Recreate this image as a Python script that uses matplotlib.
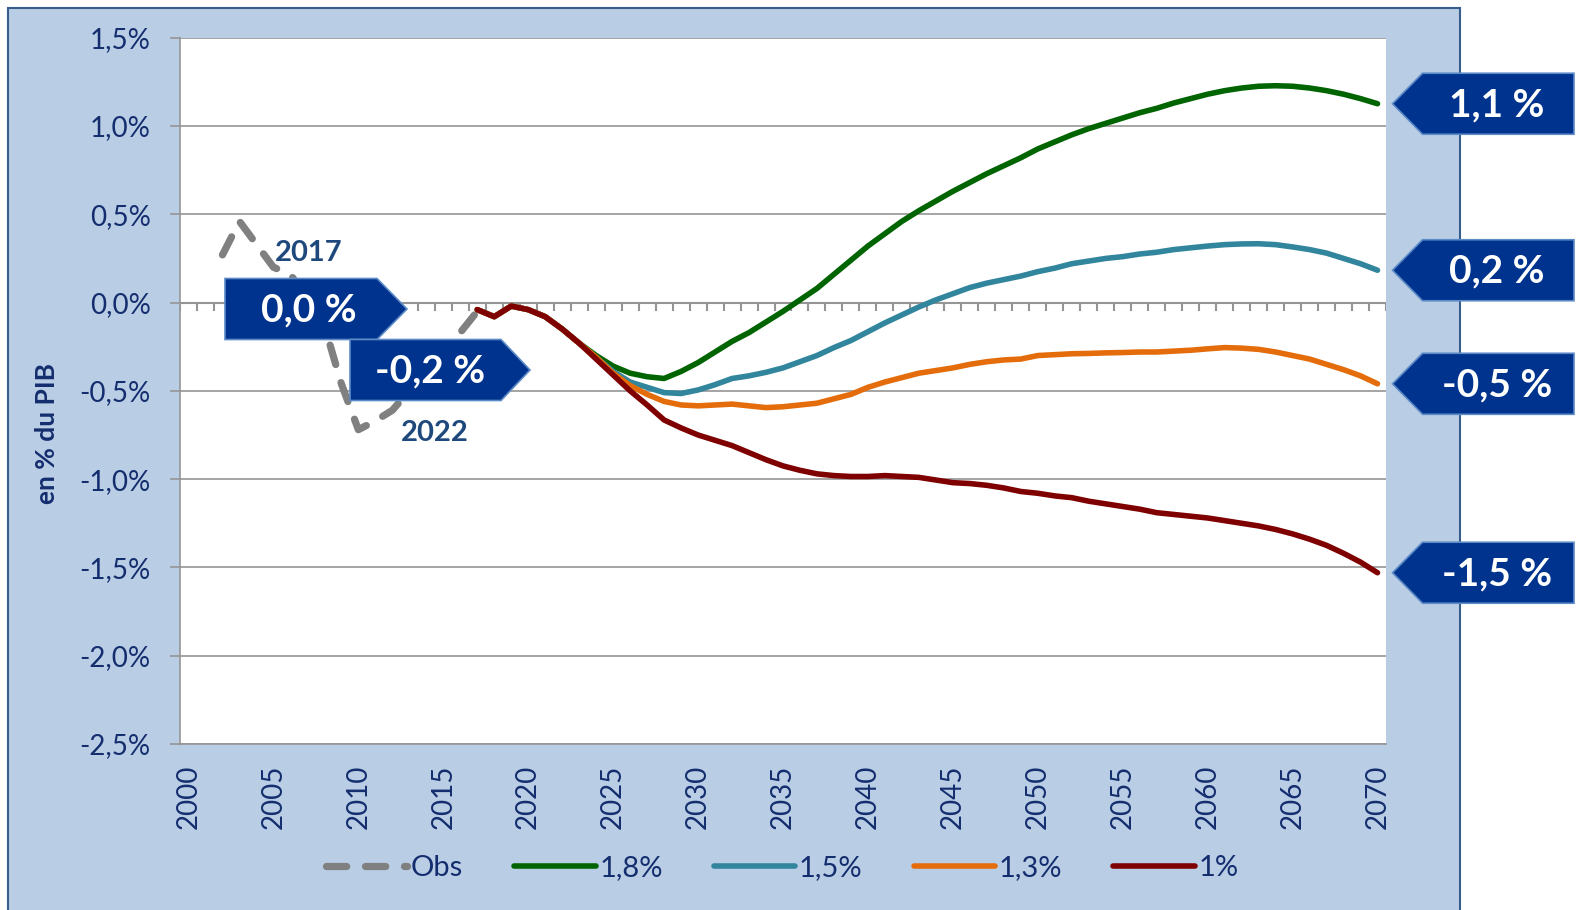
import matplotlib
matplotlib.use('Agg')
import matplotlib.pyplot as plt
from matplotlib.patches import Polygon, Rectangle

plt.rcParams['font.family'] = ['Lato', 'DejaVu Sans']

W, H = 1579, 910
navy = '#142d6e'
box_blue = '#00338d'

# donnees (en % du PIB)
obs_years = list(range(2002, 2018))
obs = [0.27, 0.46, 0.33, 0.20, 0.16, 0.02, -0.13, -0.46, -0.72, -0.67, -0.61,
       -0.50, -0.40, -0.29, -0.17, -0.05]

proj_years = list(range(2017, 2071))
debut = [-0.04, -0.08, -0.02, -0.04, -0.08, -0.15, -0.23]
s18 = debut + [-0.30, -0.36, -0.40, -0.42, -0.43, -0.39, -0.34, -0.28, -0.22, -0.17,
               -0.11, -0.05, 0.015, 0.08, 0.16, 0.24, 0.32, 0.39, 0.46, 0.52,
               0.575, 0.63, 0.68, 0.73, 0.775, 0.82, 0.87, 0.91, 0.95, 0.985,
               1.015, 1.045, 1.075, 1.10, 1.13, 1.155, 1.18, 1.20, 1.215, 1.225,
               1.228, 1.225, 1.215, 1.20, 1.18, 1.155, 1.126]
s15 = debut + [-0.31, -0.39, -0.45, -0.48, -0.51, -0.515, -0.495, -0.465, -0.43, -0.415,
               -0.395, -0.37, -0.335, -0.30, -0.255, -0.215, -0.165, -0.115, -0.07, -0.025,
               0.015, 0.05, 0.085, 0.11, 0.13, 0.15, 0.175, 0.195, 0.22, 0.235,
               0.25, 0.26, 0.275, 0.285, 0.30, 0.31, 0.32, 0.328, 0.332, 0.333,
               0.328, 0.315, 0.30, 0.28, 0.25, 0.22, 0.183]
s13 = debut + [-0.31, -0.40, -0.47, -0.52, -0.56, -0.58, -0.585, -0.58, -0.575, -0.585,
               -0.595, -0.59, -0.58, -0.57, -0.545, -0.52, -0.48, -0.45, -0.425, -0.40,
               -0.385, -0.37, -0.35, -0.335, -0.325, -0.32, -0.30, -0.295, -0.29, -0.288,
               -0.285, -0.283, -0.28, -0.28, -0.275, -0.27, -0.262, -0.255, -0.258, -0.265,
               -0.28, -0.30, -0.32, -0.35, -0.38, -0.415, -0.46]
s10 = debut + [-0.32, -0.41, -0.50, -0.58, -0.665, -0.71, -0.75, -0.78, -0.81, -0.85,
               -0.89, -0.925, -0.95, -0.97, -0.98, -0.985, -0.985, -0.98, -0.985, -0.99,
               -1.005, -1.02, -1.025, -1.035, -1.05, -1.07, -1.08, -1.095, -1.105, -1.125,
               -1.14, -1.155, -1.17, -1.19, -1.20, -1.21, -1.22, -1.235, -1.25, -1.265,
               -1.285, -1.31, -1.34, -1.375, -1.42, -1.47, -1.53]

series = [('1,8%', s18, '#006400'), ('1,5%', s15, '#31859c'),
          ('1,3%', s13, '#e46c0a'), ('1%', s10, '#7f0000')]

yticks = [1.5, 1.0, 0.5, 0.0, -0.5, -1.0, -1.5, -2.0, -2.5]
xticks = list(range(2000, 2071, 5))

fig = plt.figure(figsize=(W / 100, H / 100), dpi=100)
fig.patch.set_facecolor('white')
fig.add_artist(Rectangle((8 / W, -0.02), (1460 - 8) / W, 1.02 - 8 / H,
                         transform=fig.transFigure, facecolor='#b9cde5',
                         edgecolor='#385d8a', lw=1.5, zorder=-10))

ax = fig.add_axes([180 / W, 1 - 744 / H, (1386 - 180) / W, (744 - 37.7) / H])
ax.set_facecolor('white')
ax.set_xlim(1999.5, 2070.5)
ax.set_ylim(-2.5, 1.5)

ax.set_yticks(yticks)
ax.set_yticklabels([f'{v:.1f}%'.replace('.', ',') for v in yticks])
ax.grid(axis='y', color='#959595', lw=1.2)
ax.set_axisbelow(True)
ax.tick_params(axis='y', direction='out', length=7, width=1.2, color='#959595',
               labelsize=20, labelcolor=navy, pad=14)
ax.set_xticks(xticks)
ax.set_xticklabels([str(x) for x in xticks], rotation=90)
ax.tick_params(axis='x', length=0, labelsize=20, labelcolor=navy, pad=15)
for s in ['top', 'right']:
    ax.spines[s].set_visible(False)
ax.spines['left'].set_color('#959595')
ax.spines['left'].set_linewidth(1.2)
ax.spines['bottom'].set_color('#959595')
ax.spines['bottom'].set_linewidth(1.2)

# axe horizontal a zero avec graduations annuelles
ax.axhline(0, color='#959595', lw=1.5, zorder=1)
bornes = [x - 0.5 for x in range(2000, 2072)]
ax.vlines(bornes, -0.05, 0, color='#959595', lw=1.5, zorder=1)

ax.set_ylabel('en % du PIB', fontsize=19, fontweight='bold', color=navy)
ax.yaxis.set_label_coords(-0.100, 0.44)

ax.plot(obs_years, obs, color='#808080', lw=5.2, ls=(0, (2.8, 2.6)),
        dash_capstyle='round', label='Obs', zorder=3)
for nom, vals, col in series:
    ax.plot(proj_years, vals, color=col, lw=4.0, solid_capstyle='round', label=nom, zorder=4)

ax.text(2007.1, 0.28, '2017', fontsize=21, fontweight='bold', color='#1f497d',
        ha='center', va='center')
ax.text(2014.5, -0.74, '2022', fontsize=21, fontweight='bold', color='#1f497d',
        ha='center', va='center')

leg = ax.legend(loc='center', bbox_to_anchor=(782 / W, 1 - 868 / H),
                bbox_transform=fig.transFigure, ncol=5, frameon=False, fontsize=21,
                handlelength=2.8, handletextpad=0.12, columnspacing=1.75)
for t in leg.get_texts():
    t.set_color(navy)

# etiquettes en forme de fleche
ov = fig.add_axes([0, 0, 1, 1], zorder=10)
ov.set_xlim(0, W)
ov.set_ylim(H, 0)
ov.axis('off')


def fleche(x0, x1, yc, h, pointe, vers_droite, texte, tx):
    if vers_droite:
        pts = [(x0, yc - h / 2), (x1, yc - h / 2), (x1 + pointe, yc),
               (x1, yc + h / 2), (x0, yc + h / 2)]
    else:
        pts = [(x0, yc), (x0 + pointe, yc - h / 2), (x1, yc - h / 2),
               (x1, yc + h / 2), (x0 + pointe, yc + h / 2)]
    ov.add_patch(Polygon(pts, closed=True, facecolor=box_blue, edgecolor='#5b8ac6', lw=1.2))
    ov.text(tx, yc + 1, texte, fontsize=28, fontweight='bold', color='white',
            ha='center', va='center')


fleche(225, 377, 309, 61, 30, True, '0,0 %', 309)
fleche(350, 501, 370, 61, 29, True, '-0,2 %', 430)

fig.canvas.draw()
for nom, vals, col in series:
    px, py = ax.transData.transform((proj_years[-1], vals[-1]))
    yc = H - py
    lab = f'{vals[-1]:.1f}'.replace('.', ',') + ' %'
    fleche(px + 15, 1574, yc, 61, 30, False, lab, 1497)

fig.savefig('out.png', dpi=100)
